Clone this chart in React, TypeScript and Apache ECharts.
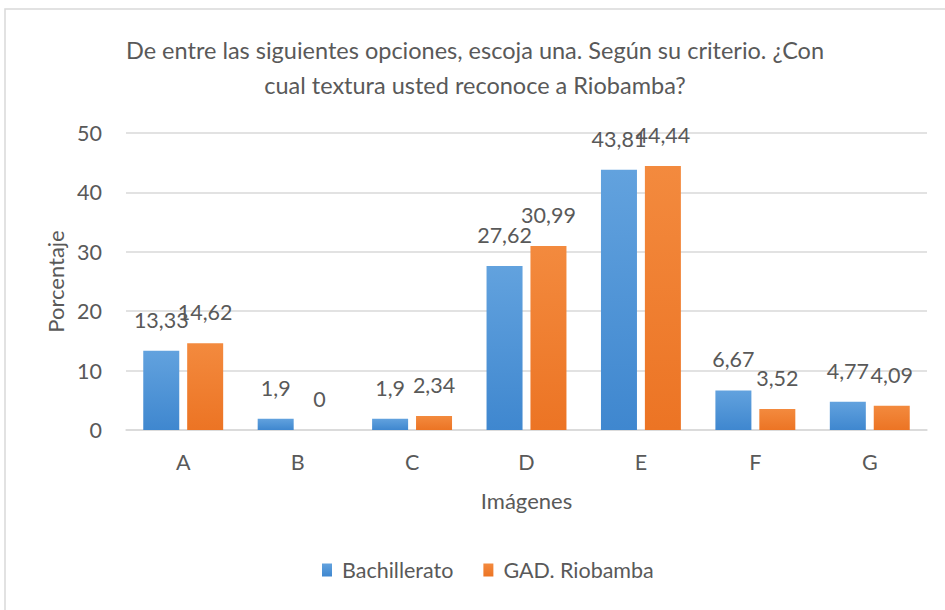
import React, { useEffect, useRef } from "react";
import * as echarts from "echarts";

const categories = ["A", "B", "C", "D", "E", "F", "G"];
const bachillerato = [13.33, 1.9, 1.9, 27.62, 43.81, 6.67, 4.77];
const gadRiobamba = [14.62, 0, 2.34, 30.99, 44.44, 3.52, 4.09];
const seriesNames = ["Bachillerato", "GAD. Riobamba"];
const titleText = "De entre las siguientes opciones, escoja una. Según su criterio. ¿Con\ncual textura usted reconoce a Riobamba?";
const FONT = "Lato";
const TXT = "#595959";
const FS = 21.5;

const fmt = (p: any) => String(p.value).replace(".", ",");

export default function App() {
  const ref = useRef<HTMLDivElement>(null);
  useEffect(() => {
    if (!ref.current) return;
    const chart = echarts.init(ref.current, null, { renderer: "svg" });
    const blue = new echarts.graphic.LinearGradient(0, 0, 0, 1, [
      { offset: 0, color: "#62A2DE" },
      { offset: 1, color: "#3F87CF" },
    ]);
    const orange = new echarts.graphic.LinearGradient(0, 0, 0, 1, [
      { offset: 0, color: "#F38A3E" },
      { offset: 1, color: "#EC7424" },
    ]);
    const label = {
      show: true,
      position: "top" as const,
      distance: 20,
      formatter: fmt,
      color: TXT,
      fontFamily: FONT,
      fontSize: FS,
    };
    chart.setOption({
      animation: false,
      backgroundColor: "#ffffff",
      textStyle: { fontFamily: FONT },
      graphic: [
        {
          type: "rect",
          shape: { x: 5, y: 9, width: 1000, height: 700 },
          style: { fill: "none", stroke: "#D9D9D9", lineWidth: 1.5 },
          silent: true,
          z: -1,
        },
      ],
      title: {
        text: titleText,
        left: 470,
        textAlign: "center",
        top: 27,
        textStyle: {
          fontFamily: FONT,
          fontSize: 23.5,
          fontWeight: "normal",
          color: TXT,
          lineHeight: 35,
        },
      },
      legend: {
        data: seriesNames,
        bottom: 24,
        left: 317,
        itemWidth: 10,
        itemHeight: 13,
        itemGap: 30,
        icon: "rect",
        textStyle: { fontFamily: FONT, fontSize: FS, color: TXT, padding: [0, 0, 0, 5] },
      },
      grid: { left: 126, right: 18, top: 133, bottom: 180 },
      xAxis: {
        type: "category",
        data: categories,
        name: "Imágenes",
        nameLocation: "middle",
        nameGap: 59,
        nameTextStyle: { fontFamily: FONT, fontSize: 22, color: TXT },
        axisLine: { lineStyle: { color: "#D9D9D9", width: 1.5 } },
        axisTick: { show: false },
        axisLabel: { color: TXT, fontFamily: FONT, fontSize: FS, margin: 21 },
      },
      yAxis: {
        type: "value",
        min: 0,
        max: 50,
        interval: 10,
        name: "Porcentaje",
        nameLocation: "middle",
        nameGap: 57,
        nameTextStyle: { fontFamily: FONT, fontSize: 22, color: TXT },
        axisLine: { show: false },
        axisTick: { show: false },
        axisLabel: { color: TXT, fontFamily: FONT, fontSize: FS, margin: 24 },
        splitLine: { lineStyle: { color: "#D9D9D9", width: 1.5 } },
      },
      series: [
        {
          name: seriesNames[0],
          type: "bar",
          data: bachillerato,
          barWidth: 36,
          barGap: "22%",
          itemStyle: { color: blue },
          label,
        },
        {
          name: seriesNames[1],
          type: "bar",
          data: gadRiobamba,
          barWidth: 36,
          itemStyle: { color: orange },
          label,
        },
      ],
    });
    return () => chart.dispose();
  }, []);
  return (
    <div
      ref={ref}
      style={{ position: "absolute", left: 0, top: 0, width: 945, height: 610 }}
    />
  );
}
